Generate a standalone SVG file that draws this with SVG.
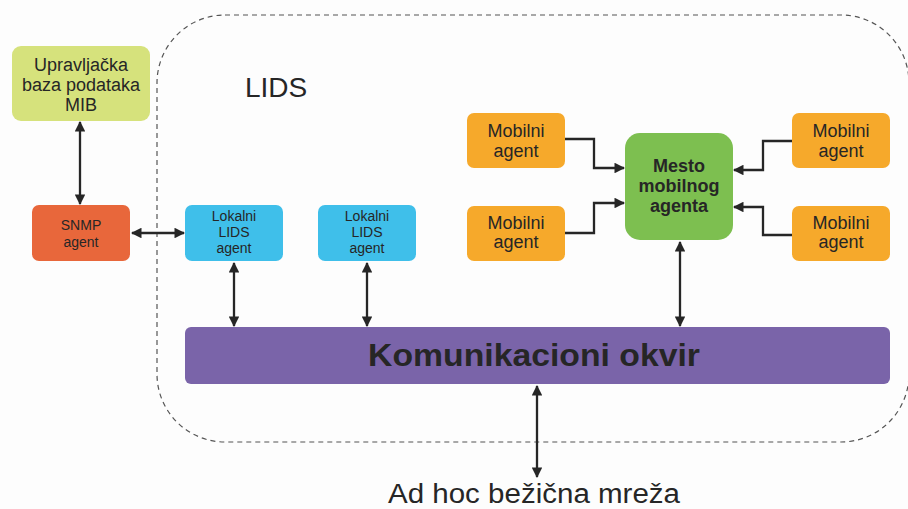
<svg xmlns="http://www.w3.org/2000/svg" width="908" height="509" viewBox="0 0 908 509">
  <defs>
    <marker id="arrow" viewBox="0 0 10 10" refX="9" refY="5" markerWidth="4.8" markerHeight="4.6" orient="auto-start-reverse" markerUnits="strokeWidth">
      <path d="M0,0 L10,5 L0,10 z" fill="#262626"/>
    </marker>
    <style>
      .box { stroke: none; }
      .t { font-family: "Liberation Sans", Arial, sans-serif; fill: #262626; text-anchor: middle; }
      .small { font-size: 14px; }
      .lids { font-size: 14px; }
      .mid { font-size: 18px; }
      .bold { font-weight: bold; }
      .link { fill: none; stroke: #262626; stroke-width: 2.3; }
    </style>
  </defs>

  <rect width="908" height="509" fill="#fdfdfd"/>

  <!-- LIDS boundary -->
  <g id="lids-boundary">
    <rect x="157" y="15" width="752" height="427" rx="68" ry="68" fill="none" stroke="#555" stroke-width="1.2" stroke-dasharray="5,4"/>
    <text class="t" x="276" y="97" font-size="28" fill="#2a2a2a">LIDS</text>
  </g>

  <!-- connectors -->
  <g id="connectors">
    <line class="link" x1="80" y1="122" x2="80" y2="204" marker-start="url(#arrow)" marker-end="url(#arrow)"/>
    <line class="link" x1="132" y1="233" x2="184" y2="233" marker-start="url(#arrow)" marker-end="url(#arrow)"/>
    <line class="link" x1="234" y1="263" x2="234" y2="326" marker-start="url(#arrow)" marker-end="url(#arrow)"/>
    <line class="link" x1="367" y1="263" x2="367" y2="326" marker-start="url(#arrow)" marker-end="url(#arrow)"/>
    <line class="link" x1="680" y1="242" x2="680" y2="326" marker-start="url(#arrow)" marker-end="url(#arrow)"/>
    <line class="link" x1="537" y1="386" x2="537" y2="477" marker-start="url(#arrow)" marker-end="url(#arrow)"/>
    <polyline class="link" points="565,139 594,139 594,168 624,168" marker-end="url(#arrow)"/>
    <polyline class="link" points="565,233 594,233 594,203 624,203" marker-end="url(#arrow)"/>
    <polyline class="link" points="792,141 763,141 763,170 734,170" marker-end="url(#arrow)"/>
    <polyline class="link" points="792,235 763,235 763,207 734,207" marker-end="url(#arrow)"/>
  </g>

  <g id="mib">
    <rect class="box" x="12" y="46" width="138" height="75" rx="9" fill="#d6e27c"/>
    <text class="t" x="81" y="71" font-size="18">Upravljačka</text>
    <text class="t" x="81" y="91" font-size="18">baza podataka</text>
    <text class="t" x="81" y="111" font-size="18">MIB</text>
  </g>

  <g id="snmp-agent">
    <rect class="box" x="32" y="205" width="98" height="56" rx="7" fill="#e8673b"/>
    <text class="t small" x="81" y="230">SNMP</text>
    <text class="t small" x="81" y="247">agent</text>
  </g>

  <g id="lokalni-1">
    <rect class="box" x="185" y="205" width="98" height="56" rx="7" fill="#3fbfea"/>
    <text class="t lids" x="234" y="221">Lokalni</text>
    <text class="t lids" x="234" y="237">LIDS</text>
    <text class="t lids" x="234" y="253">agent</text>
  </g>

  <g id="lokalni-2">
    <rect class="box" x="318" y="205" width="98" height="56" rx="7" fill="#3fbfea"/>
    <text class="t lids" x="367" y="221">Lokalni</text>
    <text class="t lids" x="367" y="237">LIDS</text>
    <text class="t lids" x="367" y="253">agent</text>
  </g>

  <g id="mobilni-1">
    <rect class="box" x="467" y="113" width="98" height="55" rx="7" fill="#f6a92b"/>
    <text class="t mid" x="516" y="137">Mobilni</text>
    <text class="t mid" x="516" y="157">agent</text>
  </g>
  <g id="mobilni-2">
    <rect class="box" x="467" y="206" width="98" height="55" rx="7" fill="#f6a92b"/>
    <text class="t mid" x="516" y="229">Mobilni</text>
    <text class="t mid" x="516" y="248">agent</text>
  </g>
  <g id="mobilni-3">
    <rect class="box" x="792" y="113" width="98" height="55" rx="7" fill="#f6a92b"/>
    <text class="t mid" x="841" y="137">Mobilni</text>
    <text class="t mid" x="841" y="157">agent</text>
  </g>
  <g id="mobilni-4">
    <rect class="box" x="792" y="206" width="98" height="55" rx="7" fill="#f6a92b"/>
    <text class="t mid" x="841" y="229">Mobilni</text>
    <text class="t mid" x="841" y="248">agent</text>
  </g>

  <g id="mesto">
    <rect class="box" x="625" y="133" width="108" height="107" rx="15" fill="#7dbf50"/>
    <text class="t bold" x="679" y="172" font-size="18">Mesto</text>
    <text class="t bold" x="679" y="192" font-size="18">mobilnog</text>
    <text class="t bold" x="679" y="212" font-size="18">agenta</text>
  </g>

  <g id="komunikacioni-okvir">
    <rect class="box" x="185" y="327" width="705" height="57" rx="6" fill="#7a64a9"/>
    <text class="t bold" x="534" y="366" font-size="32" textLength="332" lengthAdjust="spacingAndGlyphs" fill="#231f2a">Komunikacioni okvir</text>
  </g>

  <g id="ad-hoc">
    <text class="t" x="534" y="503" font-size="27" textLength="292" lengthAdjust="spacingAndGlyphs" fill="#222">Ad hoc bežična mreža</text>
  </g>
</svg>
